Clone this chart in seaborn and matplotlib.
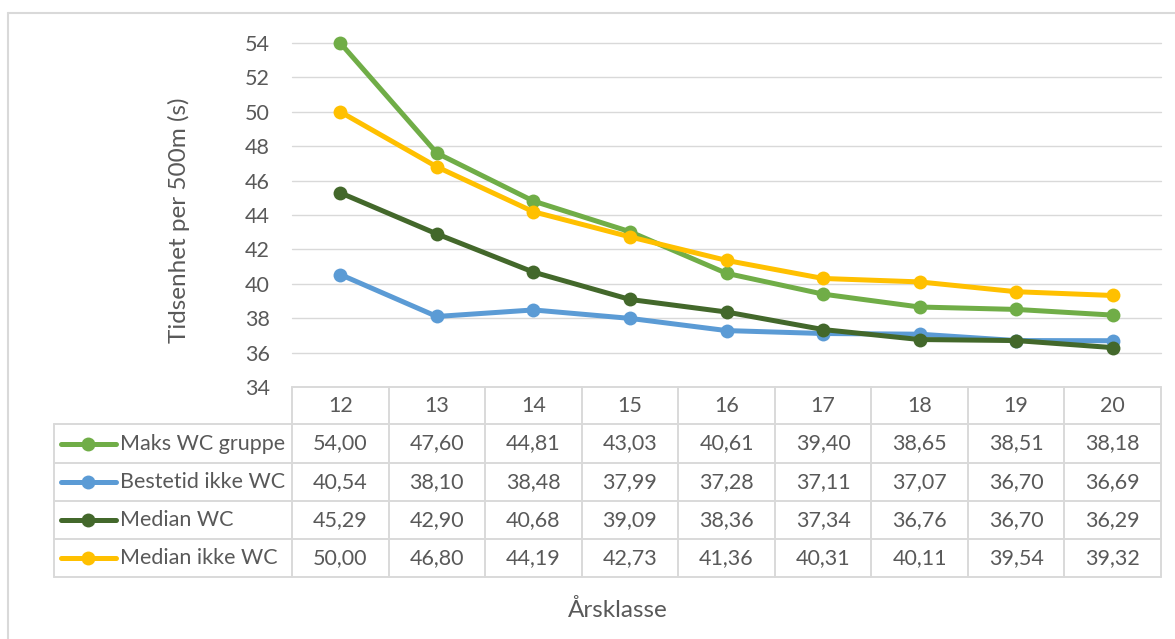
import matplotlib
matplotlib.use("Agg")
import matplotlib.pyplot as plt
import seaborn as sns
import pandas as pd

# Data
years = [12, 13, 14, 15, 16, 17, 18, 19, 20]
series_names = ["Maks WC gruppe", "Bestetid ikke WC", "Median WC", "Median ikke WC"]
maks_wc = [54.00, 47.60, 44.81, 43.03, 40.61, 39.40, 38.65, 38.51, 38.18]
bestetid_ikke_wc = [40.54, 38.10, 38.48, 37.99, 37.28, 37.11, 37.07, 36.70, 36.69]
median_wc = [45.29, 42.90, 40.68, 39.09, 38.36, 37.34, 36.76, 36.70, 36.29]
median_ikke_wc = [50.00, 46.80, 44.19, 42.73, 41.36, 40.31, 40.11, 39.54, 39.32]
y_ticks = [34, 36, 38, 40, 42, 44, 46, 48, 50, 52, 54]
colors = ["#70AD47", "#5B9BD5", "#43682B", "#FFC000"]

all_values = [maks_wc, bestetid_ikke_wc, median_wc, median_ikke_wc]

sns.set_theme(style="white")
plt.rcParams["font.family"] = ["Lato", "DejaVu Sans"]
TXT = "#595959"
GRID = "#D9D9D9"
FS = 15.5

W, H = 1175, 639
fig = plt.figure(figsize=(W / 100, H / 100), dpi=100)

# Overlay axes in pixel coordinates for the frame, titles and data table
ov = fig.add_axes([0, 0, 1, 1])
ov.set_xlim(0, W)
ov.set_ylim(H, 0)
ov.axis("off")

# Plot area
left_px, right_px, top_px, bot_px = 292, 1161, 43, 387
ax = fig.add_axes([left_px / W, 1 - bot_px / H, (right_px - left_px) / W, (bot_px - top_px) / H])

rows = []
for name, vals in zip(series_names, all_values):
    for i, (yr, v) in enumerate(zip(years, vals)):
        rows.append({"pos": i, "year": yr, "value": v, "series": name})
df = pd.DataFrame(rows)

sns.lineplot(data=df, x="pos", y="value", hue="series", hue_order=series_names,
             palette=colors, marker="o", markersize=10, markeredgewidth=0,
             linewidth=3.6, legend=False, ax=ax, zorder=3)

ax.set_xlim(-0.5, len(years) - 0.5)
ax.set_ylim(34, 54)
ax.set_yticks(y_ticks)
ax.set_yticklabels([str(t) for t in y_ticks], color=TXT, fontsize=FS)
ax.set_xticks([])
ax.set_xlabel("")
ax.set_ylabel("")
ax.tick_params(axis="y", length=0, pad=16)
for t in y_ticks[1:]:
    ax.axhline(t, color=GRID, linewidth=1.0, zorder=1)
for s in ax.spines.values():
    s.set_visible(False)
ax.set_facecolor("none")
for ln in ax.lines:
    ln.set_clip_on(False)

# Axis titles
ov.text(179, 220, "Tidsenhet per 500m (s)", rotation=90, ha="center", va="center",
        color=TXT, fontsize=17.5)
ov.text(618, 610, "Årsklasse", ha="center", va="center", color=TXT, fontsize=17.5)

# Outer frame
ov.plot([8, W], [13, 13], color=GRID, linewidth=1.5)
ov.plot([8, 8], [13, H], color=GRID, linewidth=1.5)

# Data table
col_w = (right_px - left_px) / len(years)
row_edges = [387, 424, 463, 501, 539, 577]
key_left = 54
lw_t = 1.4

# header row
for i, yr in enumerate(years):
    cx = left_px + (i + 0.5) * col_w
    ov.text(cx, (row_edges[0] + row_edges[1]) / 2, str(yr), ha="center", va="center",
            color=TXT, fontsize=FS)
# horizontal lines
ov.plot([left_px, right_px], [row_edges[0], row_edges[0]], color=GRID, lw=lw_t)
for yv in row_edges[1:]:
    ov.plot([key_left, right_px], [yv, yv], color=GRID, lw=lw_t)
# vertical lines
ov.plot([key_left, key_left], [row_edges[1], row_edges[-1]], color=GRID, lw=lw_t)
for i in range(len(years) + 1):
    x = left_px + i * col_w
    ov.plot([x, x], [row_edges[0], row_edges[-1]], color=GRID, lw=lw_t)

# body rows with legend keys
for r, (name, vals, c) in enumerate(zip(series_names, all_values, colors)):
    cy = (row_edges[r + 1] + row_edges[r + 2]) / 2
    ov.plot([61, 116], [cy, cy], color=c, lw=3.6, solid_capstyle="round")
    ov.plot([88], [cy], marker="o", color=c, markersize=10, markeredgewidth=0)
    ov.text(120, cy, name, ha="left", va="center", color=TXT, fontsize=FS)
    for i, v in enumerate(vals):
        cx = left_px + (i + 0.5) * col_w
        ov.text(cx, cy, f"{v:.2f}".replace(".", ","), ha="center", va="center",
                color=TXT, fontsize=FS)

fig.savefig("out.png", dpi=100, facecolor="white")
